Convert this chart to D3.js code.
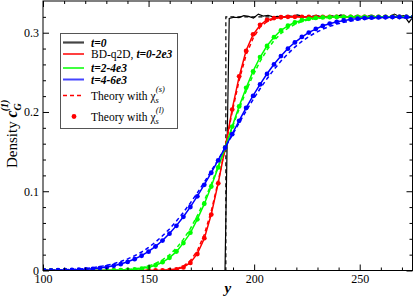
<!DOCTYPE html>
<meta charset="utf-8" />
<head>
  <script src="https://d3js.org/d3.v7.min.js"></script>
  <style>
    body { margin: 0; background: #fff; }
    text { font-family: "Liberation Serif", "DejaVu Serif", serif; fill: #000; }
  </style>
</head>
<body>
  <div id="chart"></div>
</body>
<script>
  // bin centres along y
  const yPos = [100.5, 103.8, 107.1, 110.4, 113.7, 117.0, 120.3, 123.6, 126.9, 130.2, 133.5, 136.8, 140.1, 143.4, 146.7, 150.0, 153.3, 156.6, 159.9, 163.2, 166.5, 169.8, 173.1, 176.4, 179.7, 183.0, 186.3, 189.6, 192.9, 196.2, 199.5, 202.8, 206.1, 209.4, 212.7, 216.0, 219.3, 222.6, 225.9, 229.2, 232.5, 235.8, 239.1, 242.4, 245.7, 249.0, 252.3, 255.6, 258.9, 262.2, 265.5, 268.8, 272.1, 275.4];

  // BD-q2D simulation (solid lines)
  const simRed = [0, 0, 0, 0, 0, 0, 0, 0, 0, 0, 0, 0, 0, 0, 0, 0, 0, 0, .0006, .0015, .0041, .0098, .0212, .0405, .0710, .1105, .1552, .2035, .2445, .2775, .2975, .3095, .3165, .3180, .3198, .3200, .3205, .3195, .3200, .3190, .3200, .3205, .3198, .3202, .3195, .3200, .3205, .3198, .3200, .3195, .3202, .3200, .3200, .3198];
  const simGreen = [0, 0, 0, 0, 0, 0, 0, 0, 0, 0, .0002, .0004, .0008, .0014, .0024, .0041, .0067, .0104, .0163, .0238, .0348, .0475, .0648, .0840, .1062, .1302, .1553, .1818, .2072, .2302, .2515, .2690, .2835, .2942, .3030, .3085, .3132, .3155, .3178, .3184, .3195, .3194, .3200, .3196, .3204, .3198, .3200, .3195, .3202, .3200, .3197, .3203, .3199, .3200];
  const simBlue = [.0001, .0002, .0003, .0005, .0007, .0011, .0015, .0022, .0031, .0044, .0060, .0082, .0110, .0145, .0188, .0240, .0305, .0379, .0467, .0566, .0679, .0803, .0938, .1083, .1235, .1392, .1552, .1722, .1890, .2052, .2205, .2349, .2482, .2602, .2707, .2801, .2879, .2945, .3004, .3046, .3087, .3113, .3139, .3152, .3170, .3175, .3186, .3182, .3195, .3190, .3198, .3196, .3185, .3199];

  // theory with chi_s^(s) (dashed)
  const dashRed = [0, 0, 0, 0, 0, 0, 0, 0, 0, 0, 0, 0, 0, 0, 0, 0, 0, .0002, .0008, .0022, .0054, .0124, .0250, .0454, .0749, .1125, .155, .200, .240, .272, .293, .307, .314, .3176, .3192, .3197, .320, .320, .320, .320, .320, .320, .320, .320, .320, .320, .320, .320, .320, .320, .320, .320, .320, .320];
  const dashGreen = [0, 0, 0, 0, 0, 0, 0, 0, 0, .0002, .0004, .0007, .0012, .0021, .0035, .0056, .0088, .0135, .0197, .0282, .0392, .0529, .0691, .0880, .1090, .1316, .155, .180, .204, .2263, .2464, .2637, .2783, .2900, .2990, .3057, .3106, .3140, .3163, .3178, .3187, .3193, .3196, .3198, .320, .320, .320, .320, .320, .320, .320, .320, .320, .320];
  const dashBlue = [.0003, .0004, .0006, .0009, .0013, .0018, .0026, .0036, .0049, .0065, .0086, .0113, .0146, .0186, .0233, .0291, .0359, .0438, .0524, .0624, .0733, .0852, .0980, .1115, .1257, .1402, .155, .1707, .1862, .2013, .2157, .2293, .2420, .2536, .2642, .2734, .2818, .2891, .2952, .3002, .3045, .3080, .3108, .3131, .3148, .3162, .3172, .3180, .3186, .3190, .3193, .3195, .3197, .3198];

  // theory with chi_s^(l) (dots)
  const dotRed = [0, 0, 0, 0, 0, 0, 0, 0, 0, 0, 0, 0, 0, 0, 0, 0, 0, 0, .0005, .0014, .0039, .0096, .0208, .0408, .0705, .1100, .155, .203, .245, .277, .298, .310, .316, .3185, .3195, .320, .320, .320, .320, .320, .320, .320, .320, .320, .320, .320, .320, .320, .320, .320, .320, .320, .320, .320];
  const dotGreen = [0, 0, 0, 0, 0, 0, 0, 0, 0, 0, .0002, .0004, .0007, .0013, .0023, .0040, .0066, .0105, .0161, .0240, .0346, .0477, .0646, .0842, .1060, .1300, .155, .1816, .2070, .2304, .2512, .2692, .2832, .2944, .3028, .3088, .3130, .3158, .3175, .3186, .3193, .3196, .3198, .320, .320, .320, .320, .320, .320, .320, .320, .320, .320, .320];
  const dotBlue = [.0001, .0002, .0003, .0004, .0007, .0010, .0015, .0021, .0030, .0043, .0059, .0080, .0108, .0143, .0186, .0238, .0303, .0377, .0465, .0564, .0677, .0801, .0936, .1081, .1233, .1390, .155, .1720, .1888, .2050, .2203, .2347, .2480, .2600, .2705, .2799, .2877, .2947, .3002, .3048, .3085, .3115, .3137, .3154, .3168, .3177, .3184, .3189, .3193, .3195, .3197, .3198, .3199, .3199];

  // t=0 profile
  const t0Pos = [100, 186.2, 188.2, 190.5, 192.8, 195.1, 197.4, 199.7, 202, 204.3, 206.6, 208.9, 211.2, 213.5, 215.8, 218.1, 220.4, 222.7, 225, 227.3, 229.6, 231.9, 234.2, 236.5, 238.8, 241.1, 243.4, 245.7, 248, 250.3, 252.6, 254.9, 257.2, 259.5, 261.8, 264.1, 266.4, 268.7, 271, 273.3, 275];
  const t0Sim = [0, 0, .3180, .3195, .3190, .3215, .3205, .3185, .3235, .3210, .3220, .3200, .3205, .3195, .3215, .3205, .3225, .3210, .3195, .3205, .3220, .3200, .3195, .3215, .3200, .3225, .3205, .3195, .3210, .3205, .3195, .3220, .3205, .3195, .3210, .3200, .3235, .3205, .3215, .3130, .3190];
  const t0TheoryPos = [100, 186.6, 186.6, 275];
  const t0Theory = [0, 0, .320, .320];

  const xTicks = [100, 150, 200, 250];
  const xMinor = [110, 120, 130, 140, 160, 170, 180, 190, 210, 220, 230, 240, 260, 270];
  const yTicks = [0, 0.1, 0.2, 0.3];
  const yMinor = [0.02, 0.04, 0.06, 0.08, 0.12, 0.14, 0.16, 0.18, 0.22, 0.24, 0.26, 0.28, 0.32];

  const W = 415, H = 296;
  const pLeft = 43, pRight = 412.5, pTop = 1, pBottom = 270.5;

  var svg = d3.select("#chart").append("svg").attr("width", W).attr("height", H);

  var x = d3.scaleLinear().domain([100, 275]).range([pLeft, pRight]);
  var y = d3.scaleLinear().domain([0, 0.34]).range([pBottom, pTop]);

  svg.append("defs").append("clipPath").attr("id", "clip")
    .append("rect").attr("x", pLeft).attr("y", pTop)
    .attr("width", pRight - pLeft).attr("height", pBottom - pTop);

  var plot = svg.append("g").attr("clip-path", "url(#clip)");

  function series(xs, ys) {
    return xs.map((v, i) => [v, ys[i]]);
  }
  var line = d3.line().x((d) => x(d[0])).y((d) => y(d[1]));

  // t=0
  plot.append("path").datum(series(t0TheoryPos, t0Theory)).attr("d", line)
    .attr("fill", "none").attr("stroke", "#000").attr("stroke-width", 1.2)
    .attr("stroke-dasharray", "4,3");
  plot.append("path").datum(series(t0Pos, t0Sim)).attr("d", line)
    .attr("fill", "none").attr("stroke", "#000").attr("stroke-width", 1.2);

  const groups = [
    { color: "#ff0000", sim: simRed, dash: dashRed, dot: dotRed },
    { color: "#00ff00", sim: simGreen, dash: dashGreen, dot: dotGreen },
    { color: "#0000ff", sim: simBlue, dash: dashBlue, dot: dotBlue }
  ];

  groups.forEach((g) => {
    plot.append("path").datum(series(yPos, g.sim)).attr("d", line)
      .attr("fill", "none").attr("stroke", g.color).attr("stroke-width", 1.5);
    plot.append("path").datum(series(yPos, g.dash)).attr("d", line)
      .attr("fill", "none").attr("stroke", g.color).attr("stroke-width", 1.5)
      .attr("stroke-dasharray", "4,3");
    plot.selectAll(null).data(series(yPos, g.dot)).enter().append("circle")
      .attr("cx", (d) => x(d[0])).attr("cy", (d) => y(d[1]))
      .attr("r", 2.4).attr("fill", g.color);
  });

  // axes, ticks pointing inward
  function ticksOnly(axis, vals, size) {
    return axis.tickValues(vals).tickSize(size).tickSizeOuter(0).tickFormat("");
  }
  var fmtY = (d) => (d === 0 ? "0" : d3.format(".1f")(d));

  var gB = svg.append("g").attr("transform", "translate(0," + pBottom + ")")
    .call(d3.axisBottom(x).tickValues(xTicks).tickSize(-6).tickSizeOuter(0).tickPadding(4));
  svg.append("g").attr("transform", "translate(0," + pBottom + ")")
    .call(ticksOnly(d3.axisBottom(x), xMinor, -3));
  svg.append("g").attr("transform", "translate(0," + pTop + ")")
    .call(ticksOnly(d3.axisTop(x), xTicks, -6));
  svg.append("g").attr("transform", "translate(0," + pTop + ")")
    .call(ticksOnly(d3.axisTop(x), xMinor, -3));

  var gL = svg.append("g").attr("transform", "translate(" + pLeft + ",0)")
    .call(d3.axisLeft(y).tickValues(yTicks).tickSize(-6).tickSizeOuter(0).tickPadding(4).tickFormat(fmtY));
  svg.append("g").attr("transform", "translate(" + pLeft + ",0)")
    .call(ticksOnly(d3.axisLeft(y), yMinor, -3));
  svg.append("g").attr("transform", "translate(" + pRight + ",0)")
    .call(ticksOnly(d3.axisRight(y), yTicks, -6));
  svg.append("g").attr("transform", "translate(" + pRight + ",0)")
    .call(ticksOnly(d3.axisRight(y), yMinor, -3));

  svg.selectAll(".domain").remove();
  svg.selectAll(".tick line").attr("stroke", "#000");
  [gB, gL].forEach((g) => g.selectAll("text")
    .style("font-family", "Liberation Serif, serif").style("font-size", "12px"));

  svg.append("rect").attr("x", pLeft).attr("y", pTop)
    .attr("width", pRight - pLeft).attr("height", pBottom - pTop)
    .attr("fill", "none").attr("stroke", "#000").attr("stroke-width", 1);

  // axis titles
  svg.append("text").attr("x", (pLeft + pRight) / 2).attr("y", 293)
    .attr("text-anchor", "middle").style("font-size", "15px")
    .style("font-weight", "bold").style("font-style", "italic").text("y");

  var yl = svg.append("text").attr("transform", "translate(17,168) rotate(-90)")
    .style("font-size", "15px");
  yl.append("tspan").text("Density ");
  yl.append("tspan").style("font-weight", "bold").style("font-style", "italic")
    .style("font-size", "16px").text("c");
  yl.append("tspan").attr("dy", 4).style("font-weight", "bold").style("font-style", "italic")
    .style("font-size", "10px").text("G");
  yl.append("tspan").attr("dx", -8).attr("dy", -13).style("font-weight", "bold")
    .style("font-style", "italic").style("font-size", "10px").text("(1)");

  // legend
  var lg = svg.append("g");
  lg.append("rect").attr("x", 60.5).attr("y", 33.5).attr("width", 117).attr("height", 95)
    .attr("fill", "#fff").attr("stroke", "#555").attr("stroke-width", 1);

  const lx0 = 63, lx1 = 84, tx = 91;
  const legRows = [
    { y: 42.5, color: "#444", w: 2.2 },
    { y: 54, color: "#ff0000", w: 1.5 },
    { y: 68, color: "#00ff00", w: 1.5 },
    { y: 79.5, color: "#4444ff", w: 2 },
    { y: 95.5, color: "#ff0000", w: 1.5, dash: "4,3" }
  ];
  legRows.forEach((r) => {
    lg.append("line").attr("x1", lx0).attr("x2", lx1).attr("y1", r.y).attr("y2", r.y)
      .attr("stroke", r.color).attr("stroke-width", r.w)
      .attr("stroke-dasharray", r.dash || null);
  });
  lg.append("circle").attr("cx", 74).attr("cy", 116.5).attr("r", 2.4).attr("fill", "#ff0000");

  function legText(yb) {
    return lg.append("text").attr("x", tx).attr("y", yb).style("font-size", "11.5px");
  }
  function bi(t, s) {
    t.append("tspan").style("font-weight", "bold").style("font-style", "italic").text(s);
  }
  bi(legText(46.5), "t=0");
  var t2 = legText(58);
  t2.append("tspan").text("BD-q2D, ");
  bi(t2, "t=0-2e3");
  bi(legText(72), "t=2-4e3");
  bi(legText(83.5), "t=4-6e3");

  function chiText(yb, sup) {
    var t = legText(yb);
    t.append("tspan").text("Theory with \u03c7");
    t.append("tspan").attr("dy", 3).style("font-style", "italic").style("font-size", "8.5px").text("s");
    t.append("tspan").attr("dx", -3).attr("dy", -11).style("font-style", "italic")
      .style("font-size", "8.5px").text("(" + sup + ")");
  }
  chiText(99.5, "s");
  chiText(121, "l");
</script>
